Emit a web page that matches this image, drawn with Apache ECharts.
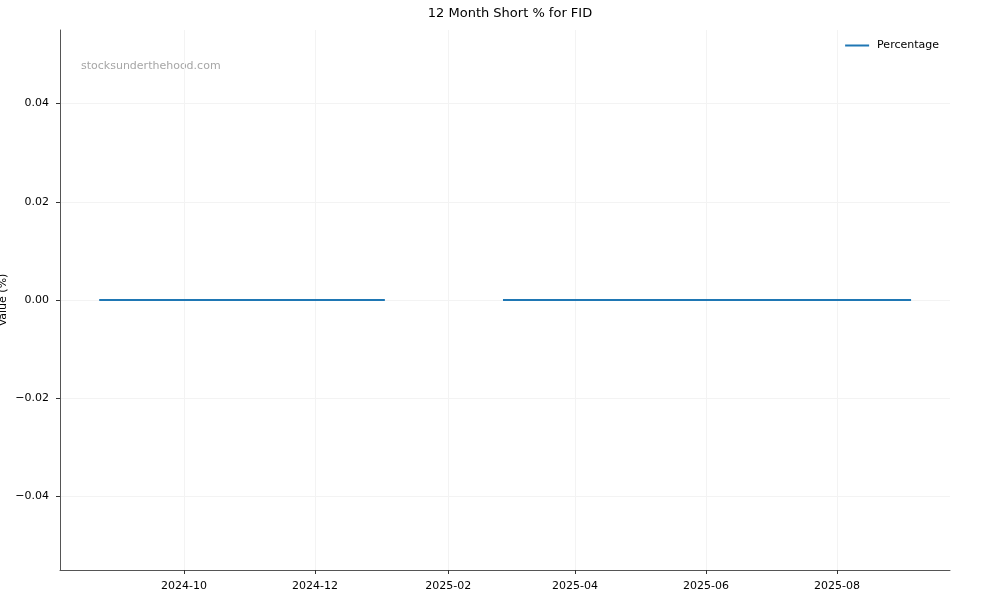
<!DOCTYPE html>
<html>
<head>
<meta charset="utf-8">
<script src="https://cdn.jsdelivr.net/npm/echarts@6/dist/echarts.min.js"></script>
<style>html,body{margin:0;padding:0;background:#fff}#c{width:1000px;height:600px}</style>
</head>
<body>
<div id="c"></div>
<script>
var dates = ['2024-08-22T12:00','2024-09-06','2024-09-20','2024-10-04','2024-10-18','2024-11-01','2024-11-15','2024-11-29','2024-12-13','2024-12-27','2025-01-02T12:00',
  '2025-01-30',
  '2025-02-26T12:00','2025-03-14','2025-03-28','2025-04-11','2025-04-25','2025-05-09','2025-05-23','2025-06-06','2025-06-20','2025-07-04','2025-07-18','2025-08-01','2025-08-15','2025-08-29','2025-09-04T12:00'];
var values = [0,0,0,0,0,0,0,0,0,0,0,
  null,
  0,0,0,0,0,0,0,0,0,0,0,0,0,0,0];
var xTickDates = ['2024-10-01','2024-12-01','2025-02-01','2025-04-01','2025-06-01','2025-08-01'];
var yTicks = [-0.04,-0.02,0,0.02,0.04];
var xMin = '2024-08-04T06:00', xMax = '2025-09-22T15:00';
var yMin = -0.055, yMax = 0.055;

function ts(s){ return new Date(s + (s.length===10 ? 'T00:00:00' : ':00')).getTime(); }
var FONT = 'DejaVu Sans';
var chart = echarts.init(document.getElementById('c'), null, {renderer:'canvas'});
var seriesData = dates.map(function(d,i){ return [ts(d), values[i]]; });
chart.setOption({
  animation:false,
  title:{text:'12 Month Short % for FID', left:505, top:2, textAlign:'center',
    textStyle:{fontFamily:FONT, fontSize:13, fontWeight:'normal', color:'#000'}},
  legend:{data:['Percentage'], right:56, top:35, icon:'rect', itemWidth:24, itemHeight:2, itemGap:8,
    textStyle:{fontFamily:FONT, fontSize:11, color:'#000', padding:[0,0,0,3]}},
  graphic:[{type:'text', left:81, top:61, style:{text:'stocksunderthehood.com', fill:'#a6a6a6', font:'11px "DejaVu Sans"'}}],
  grid:{left:60, right:50, top:30, bottom:30, containLabel:false, outerBoundsMode:'none'},
  xAxis:{type:'value', min:ts(xMin), max:ts(xMax), scale:true,
    axisLine:{show:true, onZero:false, lineStyle:{color:'#555', width:1}},
    axisTick:{show:true, length:4, lineStyle:{color:'#333'}, customValues:xTickDates.map(ts)},
    axisLabel:{customValues:xTickDates.map(ts), fontFamily:FONT, fontSize:11, color:'#000', margin:11,
      showMinLabel:true, showMaxLabel:true,
      formatter:function(v){ var d=new Date(v); var m=d.getMonth()+1; return d.getFullYear()+'-'+(m<10?'0':'')+m; }},
    splitLine:{show:true, lineStyle:{color:'#f3f3f3', width:1}}
  },
  yAxis:{type:'value', min:yMin, max:yMax, name:'Value (%)', nameLocation:'middle', nameGap:51, nameRotate:90,
    nameMoveOverlap:false,
    nameTextStyle:{fontFamily:FONT, fontSize:11, color:'#000'},
    axisLine:{show:true, onZero:false, lineStyle:{color:'#555', width:1}},
    axisTick:{show:true, length:4, lineStyle:{color:'#333'}, customValues:yTicks},
    axisLabel:{customValues:yTicks, fontFamily:FONT, fontSize:11, color:'#000', margin:11,
      formatter:function(v){ var s=Math.abs(v).toFixed(2); return (v< -1e-9 ? '\u2212' : '') + s; }},
    splitLine:{show:true, lineStyle:{color:'#f3f3f3', width:1}}
  },
  series:[{name:'Percentage', type:'line', data:seriesData, symbol:'none', connectNulls:false,
    lineStyle:{color:'#1f77b4', width:2}, itemStyle:{color:'#1f77b4'}}]
});
</script>
</body>
</html>
